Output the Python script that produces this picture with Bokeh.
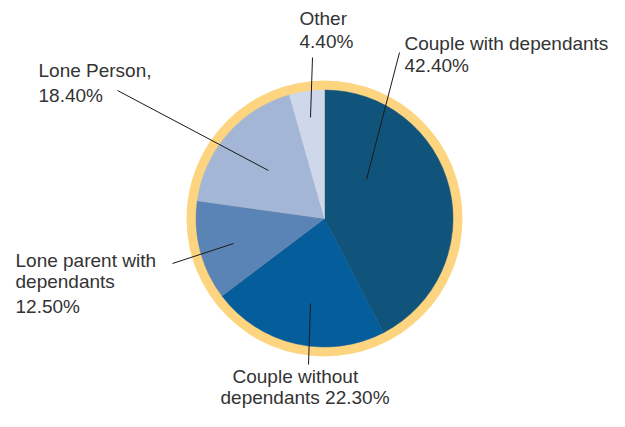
from bokeh.plotting import figure
from bokeh.models import Range1d, ColumnDataSource
from bokeh.embed import file_html
from bokeh.resources import INLINE
from bokeh.core.properties import value
import numpy as np

# ---- data ----
categories = ["Couple with dependants", "Couple without dependants",
              "Lone parent with dependants", "Lone Person", "Other"]
shares = [42.4, 22.3, 12.5, 18.4, 4.4]
slice_colors = ["#10547b", "#065d9b", "#5b84b6", "#a3b6d6", "#cfd8ea"]
label_heads = [["Couple with dependants"], ["Couple without", "dependants"],
               ["Lone parent with", "dependants"], ["Lone Person,"], ["Other"]]

# ---- layout ----
W, H = 609, 411
cx, cy = 324, 193
r_pie, r_ring = 128.5, 138

p = figure(width=W, height=H, x_range=Range1d(0, W), y_range=Range1d(0, H),
           output_backend="svg", toolbar_location=None, min_border=0,
           x_axis_location=None, y_axis_location=None)
p.grid.visible = False
p.outline_line_color = None
p.background_fill_color = "white"

frac = np.array(shares) / sum(shares)
ends = np.cumsum(frac)
starts = ends - frac
src = ColumnDataSource(dict(
    cat=categories,
    start=np.pi / 2 - ends * 2 * np.pi,
    end=np.pi / 2 - starts * 2 * np.pi,
    color=slice_colors,
))

p.circle(x=cx, y=cy, radius=r_ring, fill_color="#fdd580", line_color=None)
p.wedge(x=cx, y=cy, radius=r_pie, start_angle="start", end_angle="end",
        direction="anticlock", fill_color="color", line_color="color",
        line_width=0.5, source=src)

# leader lines: (inner point) -> (outer point), per category
leaders = [((366, 232), (399, 359)),
           ((310, 108), (308, 47)),
           ((233, 168), (172, 148)),
           ((268, 241), (117, 321)),
           ((310, 294), (312, 354))]
for (x0, y0), (x1, y1) in leaders:
    p.line([x0, x1], [y0, y1], line_color="#1a1a1a", line_width=1)

# label text lines: heads + formatted percent
pct = [f"{v:.2f}%" for v in shares]
lines_text = [
    label_heads[0] + [pct[0]],
    [label_heads[1][0], label_heads[1][1] + " " + pct[1]],
    label_heads[2] + [pct[2]],
    label_heads[3] + [pct[3]],
    label_heads[4] + [pct[4]],
]
line_pos = [  # per line (x, y anchor)
    [(404, 368), (404, 346)],
    [(232, 35), (220, 14)],
    [(15, 151), (15, 130), (15, 105)],
    [(38, 341), (38, 316)],
    [(299, 393), (299, 370)],
]
tx, ty, tt = [], [], []
for lines, poss in zip(lines_text, line_pos):
    for t, (x, y) in zip(lines, poss):
        tx.append(x); ty.append(y); tt.append(t)
tsrc = ColumnDataSource(dict(x=tx, y=ty, text=tt))
p.text(x="x", y="y", text="text", text_align="left", text_baseline="alphabetic",
       text_font=value("Liberation Sans"), text_font_size="19px",
       text_color="#333333", source=tsrc)

open("out.html", "w").write(file_html(p, INLINE))
